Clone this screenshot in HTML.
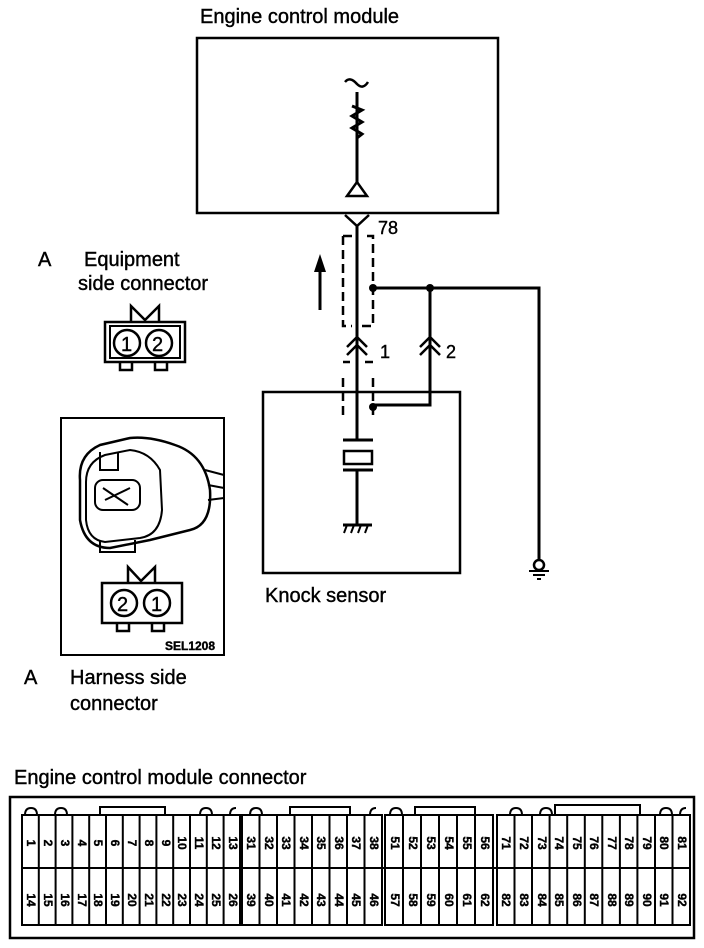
<!DOCTYPE html>
<html><head><meta charset="utf-8"><style>
html,body{margin:0;padding:0;background:#fff}
svg{display:block}
text{font-family:"Liberation Sans",sans-serif;fill:#000;stroke:#000;stroke-width:0.4}
</style></head><body>
<svg width="704" height="948" viewBox="0 0 704 948" xmlns="http://www.w3.org/2000/svg">
<g font-size="20">
<text x="200" y="23">Engine control module</text>
<text x="38" y="266">A</text>
<text x="84" y="266">Equipment</text>
<text x="78" y="290">side connector</text>
<text x="265" y="602">Knock sensor</text>
<text x="24" y="684">A</text>
<text x="70" y="684">Harness side</text>
<text x="70" y="710">connector</text>
<text x="14" y="784">Engine control module connector</text>
<text x="378" y="234" font-size="18">78</text>
<text x="380" y="358" font-size="18">1</text>
<text x="446" y="358" font-size="18">2</text>
</g>
<g fill="none" stroke="#000" stroke-width="3">
<rect x="197" y="38" width="301" height="175" stroke-width="2.5"/>
<rect x="263" y="392" width="197" height="181" stroke-width="2.5"/>
<path d="M357 92 V148 M352 106 L362 110 L352 116 L362 122 L352 128 L362 134 L357 138"/>
<path d="M345 82 Q350 76 357 84 Q363 90 368 82" stroke-width="2.5"/>
<path d="M357 148 V182"/>
<path d="M347 196 L357 182 L367 196 Z" stroke-width="2.5"/>
<path d="M345 215 L357 226 L369 215" stroke-width="2.5"/>
<path d="M357 226 V440"/>
<path d="M347 347 L357 337 L367 347 M347 355 L357 345 L367 355" stroke-width="2.5"/>
<path d="M420 347 L430 337 L440 347 M420 355 L430 345 L440 355" stroke-width="2.5"/>
<path d="M373 288 H539 V560"/>
<path d="M430 288 V405 H373"/>
<path d="M343 440 H373 M343 470 H373" />
<rect x="344" y="451" width="28" height="13" stroke-width="2.5"/>
<path d="M357 470 V525 M343 525 H372" />
<path d="M347 525 L344 533 M354 525 L351 533 M361 525 L358 533 M368 525 L365 533" stroke-width="2"/>
<circle cx="539" cy="565" r="5" stroke-width="2.5"/>
<path d="M529 571 H549 M533 575 H545 M537 579 H541" stroke-width="2"/>
<path d="M343 236 V326 H352 M362 326 H373 V236 H363 M352 236 H343" stroke-dasharray="9,5" stroke-width="2.5"/>
<path d="M343 378 V420 M373 378 V420 M343 362 H350 M365 362 H373" stroke-dasharray="9,5" stroke-width="2.5"/>
<path d="M320 310 V270"/>
<rect x="61" y="418" width="163" height="237" stroke-width="2"/>
</g>
<circle cx="373" cy="288" r="4"/><circle cx="430" cy="288" r="4"/><circle cx="373" cy="407" r="4"/>
<path d="M320 254 L314 272 H326 Z"/>
<g fill="none" stroke="#000" stroke-width="2.5">
<rect x="105" y="322" width="80" height="40"/>
<rect x="110" y="326" width="70" height="32" stroke-width="2"/>
<circle cx="127" cy="343" r="13"/><circle cx="159" cy="343" r="13"/>
<path d="M131 322 V306 L145 320 L159 306 V322" />
<path d="M120 362 V370 H132 V362 M155 362 V370 H167 V362"/>
</g>
<g font-size="20"><text x="121" y="351">1</text><text x="152" y="351">2</text></g>
<g fill="none" stroke="#000" stroke-width="2.5">
<rect x="102" y="583" width="80" height="40"/>
<circle cx="124" cy="603" r="13"/><circle cx="157" cy="603" r="13"/>
<path d="M128 583 V567 L141 581 L155 567 V583"/>
<path d="M117 623 V631 H129 V623 M152 623 V631 H164 V623"/>
<path d="M80 480 Q78 455 100 445 L130 438 Q150 436 175 445 Q205 455 210 490 Q212 525 190 530 L150 540 L110 548 Q85 548 80 520 Z"/>
<path d="M86 482 Q86 462 105 455 L130 450 Q150 452 160 470 L162 510 Q160 535 140 538 L105 542 Q88 540 86 520 Z" stroke-width="2"/>
<rect x="95" y="480" width="45" height="30" rx="8" stroke-width="2"/>
<path d="M103 488 L128 505 M105 500 L130 488" stroke-width="2"/>
<path d="M100 452 V470 H118 V452 M100 540 V552 H135 V540" stroke-width="2"/>
<path d="M205 470 L224 475 M208 485 L224 488 M208 500 L224 498" stroke-width="2"/>
</g>
<g font-size="20"><text x="117" y="611">2</text><text x="151" y="611">1</text></g>
<text x="165" y="650" font-size="12" font-weight="bold">SEL1208</text>
<g fill="none" stroke="#000">
<rect x="10" y="797" width="684" height="141" stroke-width="2.5"/>
<rect x="22" y="815" width="218" height="110" stroke-width="2"/>
<rect x="242" y="815" width="140" height="110" stroke-width="2"/>
<rect x="385" y="815" width="108" height="110" stroke-width="2"/>
<rect x="497" y="815" width="193" height="110" stroke-width="2"/>
<path d="M22 868 H690" stroke-width="2"/>
<path d="M38.8 815V925M55.6 815V925M72.4 815V925M89.2 815V925M106 815V925M122.8 815V925M139.6 815V925M156.4 815V925M173.2 815V925M190 815V925M206.8 815V925M223.6 815V925
M259.5 815V925M277 815V925M294.5 815V925M312 815V925M329.5 815V925M347 815V925M364.5 815V925
M403 815V925M421 815V925M439 815V925M457 815V925M475 815V925
M514.5 815V925M532 815V925M549.6 815V925M567.2 815V925M584.8 815V925M602.3 815V925M619.9 815V925M637.4 815V925M655 815V925M672.5 815V925" stroke-width="2"/>
<path d="M100 815 V807 H165 V815 M290 815 V807 H350 V815 M415 815 V807 H475 V815 M555 815 V805 H640 V815" stroke-width="2"/>
<path d="M25 815 Q25 808 31 808 Q37 808 37 815 M55 815 Q55 808 61 808 Q67 808 67 815 M200 815 Q200 808 206 808 Q212 808 212 815 M230 815 Q230 808 236 808 M250 815 Q250 808 256 808 Q262 808 262 815 M370 815 Q370 808 376 808 M390 815 Q390 808 396 808 Q402 808 402 815 M510 815 Q510 808 516 808 Q522 808 522 815 M540 815 Q540 808 546 808 Q552 808 552 815 M660 815 Q660 808 666 808 Q672 808 672 815 M680 815 Q680 808 686 808" stroke-width="2"/>
</g>
<g font-size="12" font-weight="bold" text-anchor="middle">
<text transform="translate(27,843) rotate(90)">1</text><text transform="translate(44,843) rotate(90)">2</text><text transform="translate(61,843) rotate(90)">3</text><text transform="translate(78,843) rotate(90)">4</text><text transform="translate(94,843) rotate(90)">5</text><text transform="translate(111,843) rotate(90)">6</text><text transform="translate(128,843) rotate(90)">7</text><text transform="translate(145,843) rotate(90)">8</text><text transform="translate(162,843) rotate(90)">9</text><text transform="translate(178,843) rotate(90)">10</text><text transform="translate(195,843) rotate(90)">11</text><text transform="translate(212,843) rotate(90)">12</text><text transform="translate(229,843) rotate(90)">13</text>
<text transform="translate(247,843) rotate(90)">31</text><text transform="translate(265,843) rotate(90)">32</text><text transform="translate(282,843) rotate(90)">33</text><text transform="translate(300,843) rotate(90)">34</text><text transform="translate(317,843) rotate(90)">35</text><text transform="translate(335,843) rotate(90)">36</text><text transform="translate(352,843) rotate(90)">37</text><text transform="translate(370,843) rotate(90)">38</text>
<text transform="translate(391,843) rotate(90)">51</text><text transform="translate(409,843) rotate(90)">52</text><text transform="translate(427,843) rotate(90)">53</text><text transform="translate(445,843) rotate(90)">54</text><text transform="translate(463,843) rotate(90)">55</text><text transform="translate(481,843) rotate(90)">56</text>
<text transform="translate(502,843) rotate(90)">71</text><text transform="translate(520,843) rotate(90)">72</text><text transform="translate(538,843) rotate(90)">73</text><text transform="translate(555,843) rotate(90)">74</text><text transform="translate(573,843) rotate(90)">75</text><text transform="translate(590,843) rotate(90)">76</text><text transform="translate(608,843) rotate(90)">77</text><text transform="translate(625,843) rotate(90)">78</text><text transform="translate(643,843) rotate(90)">79</text><text transform="translate(660,843) rotate(90)">80</text><text transform="translate(678,843) rotate(90)">81</text>
<text transform="translate(27,900) rotate(90)">14</text><text transform="translate(44,900) rotate(90)">15</text><text transform="translate(61,900) rotate(90)">16</text><text transform="translate(78,900) rotate(90)">17</text><text transform="translate(94,900) rotate(90)">18</text><text transform="translate(111,900) rotate(90)">19</text><text transform="translate(128,900) rotate(90)">20</text><text transform="translate(145,900) rotate(90)">21</text><text transform="translate(162,900) rotate(90)">22</text><text transform="translate(178,900) rotate(90)">23</text><text transform="translate(195,900) rotate(90)">24</text><text transform="translate(212,900) rotate(90)">25</text><text transform="translate(229,900) rotate(90)">26</text>
<text transform="translate(247,900) rotate(90)">39</text><text transform="translate(265,900) rotate(90)">40</text><text transform="translate(282,900) rotate(90)">41</text><text transform="translate(300,900) rotate(90)">42</text><text transform="translate(317,900) rotate(90)">43</text><text transform="translate(335,900) rotate(90)">44</text><text transform="translate(352,900) rotate(90)">45</text><text transform="translate(370,900) rotate(90)">46</text>
<text transform="translate(391,900) rotate(90)">57</text><text transform="translate(409,900) rotate(90)">58</text><text transform="translate(427,900) rotate(90)">59</text><text transform="translate(445,900) rotate(90)">60</text><text transform="translate(463,900) rotate(90)">61</text><text transform="translate(481,900) rotate(90)">62</text>
<text transform="translate(502,900) rotate(90)">82</text><text transform="translate(520,900) rotate(90)">83</text><text transform="translate(538,900) rotate(90)">84</text><text transform="translate(555,900) rotate(90)">85</text><text transform="translate(573,900) rotate(90)">86</text><text transform="translate(590,900) rotate(90)">87</text><text transform="translate(608,900) rotate(90)">88</text><text transform="translate(625,900) rotate(90)">89</text><text transform="translate(643,900) rotate(90)">90</text><text transform="translate(660,900) rotate(90)">91</text><text transform="translate(678,900) rotate(90)">92</text>
</g>
</svg>
</body></html>
